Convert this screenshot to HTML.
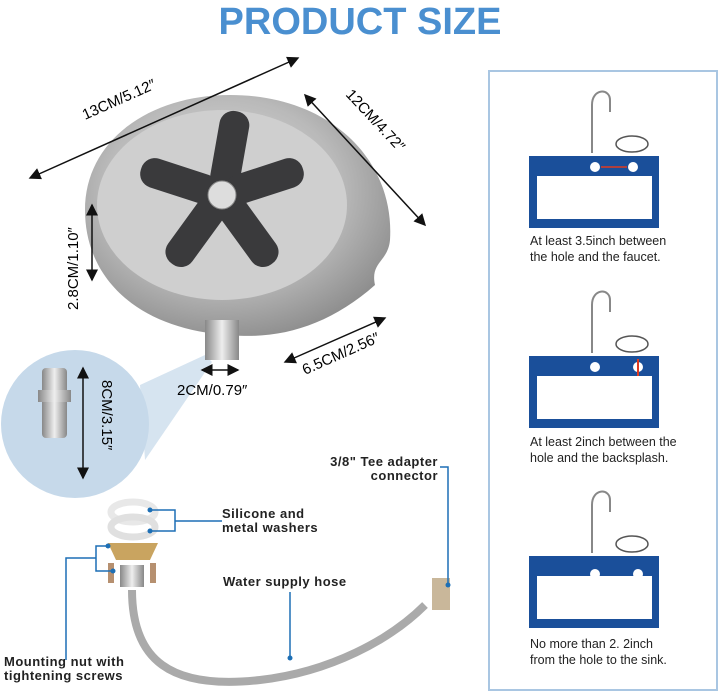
<!DOCTYPE html><html><head><style>body{margin:0;background:#fff}svg{display:block}</style></head><body>
<svg width="720" height="693" viewBox="0 0 720 693" xmlns="http://www.w3.org/2000/svg" font-family="Liberation Sans, sans-serif">
<defs>
<radialGradient id="g1" cx="45%" cy="40%" r="65%"><stop offset="0" stop-color="#e4e4e4"/><stop offset="0.6" stop-color="#b9b9b9"/><stop offset="1" stop-color="#8a8a8a"/></radialGradient>
<linearGradient id="g2" x1="0" x2="1"><stop offset="0" stop-color="#888"/><stop offset="0.5" stop-color="#eee"/><stop offset="1" stop-color="#888"/></linearGradient>
<marker id="a" markerWidth="8" markerHeight="8" refX="7" refY="4" orient="auto-start-reverse"><path d="M0,0 L8,4 L0,8z" fill="#111"/></marker>
</defs>
<text x="360" y="34" text-anchor="middle" font-size="38" font-weight="bold" fill="#4a8fd0">PRODUCT SIZE</text>
<!-- zoom cone -->
<path d="M140,385 L205,355 L212,362 L145,460z" fill="#d6e4f0"/>
<!-- pad -->
<path d="M230,95 C330,95 395,160 390,240 C388,262 370,262 375,285 C330,325 280,340 230,335 C140,330 85,280 85,210 C85,140 150,95 230,95z" fill="url(#g1)"/>
<ellipse cx="222" cy="205" rx="125" ry="95" fill="#cfcfcf"/>
<g fill="#3a3a3c" transform="translate(222,195)">
<rect x="-15" y="-85" width="30" height="80" rx="14" transform="rotate(10)"/>
<rect x="-15" y="-85" width="30" height="80" rx="14" transform="rotate(72)"/>
<rect x="-15" y="-85" width="30" height="80" rx="14" transform="rotate(144)"/>
<rect x="-15" y="-85" width="30" height="80" rx="14" transform="rotate(216)"/>
<rect x="-15" y="-85" width="30" height="80" rx="14" transform="rotate(288)"/>
</g>
<circle cx="222" cy="195" r="14" fill="#ddd" stroke="#888"/>
<rect x="205" y="320" width="34" height="40" fill="url(#g2)"/>
<!-- dims -->
<line x1="30" y1="178" x2="298" y2="58" stroke="#111" stroke-width="1.5" marker-start="url(#a)" marker-end="url(#a)"/>
<text font-size="15" transform="translate(85,120) rotate(-24)">13CM/5.12″</text>
<line x1="305" y1="95" x2="425" y2="225" stroke="#111" stroke-width="1.5" marker-start="url(#a)" marker-end="url(#a)"/>
<text font-size="15" transform="translate(345,95) rotate(47)">12CM/4.72″</text>
<line x1="92" y1="205" x2="92" y2="280" stroke="#111" stroke-width="1.5" marker-start="url(#a)" marker-end="url(#a)"/>
<text font-size="15" transform="translate(78,310) rotate(-90)">2.8CM/1.10″</text>
<line x1="285" y1="362" x2="385" y2="318" stroke="#111" stroke-width="1.5" marker-start="url(#a)" marker-end="url(#a)"/>
<text font-size="15" transform="translate(305,375) rotate(-24)">6.5CM/2.56″</text>
<line x1="202" y1="370" x2="238" y2="370" stroke="#111" stroke-width="1.5" marker-start="url(#a)" marker-end="url(#a)"/>
<text x="177" y="395" font-size="15">2CM/0.79″</text>
<!-- zoom circle -->
<circle cx="75" cy="424" r="74" fill="#c6d9ea"/>
<rect x="42" y="368" width="25" height="70" rx="4" fill="url(#g2)"/>
<rect x="38" y="390" width="33" height="12" fill="url(#g2)"/>
<line x1="83" y1="368" x2="83" y2="478" stroke="#111" stroke-width="1.5" marker-start="url(#a)" marker-end="url(#a)"/>
<text font-size="15" transform="translate(102,380) rotate(90)">8CM/3.15″</text>
<!-- parts -->
<ellipse cx="133" cy="512" rx="22" ry="10" fill="none" stroke="#e8e8e8" stroke-width="7"/>
<ellipse cx="133" cy="527" rx="22" ry="10" fill="none" stroke="#e0e0e0" stroke-width="7"/>
<path d="M108,543 L158,543 L150,560 L116,560z" fill="#c9a460"/>
<rect x="108" y="563" width="6" height="20" fill="#b69070"/><rect x="150" y="563" width="6" height="20" fill="#b69070"/>
<rect x="120" y="565" width="24" height="22" fill="url(#g2)"/>
<path d="M132,590 C132,660 170,690 260,680 C330,672 390,640 425,605" fill="none" stroke="#aaa" stroke-width="8"/>
<rect x="432" y="578" width="18" height="32" fill="#c9b79a"/>
<g stroke="#1d6fb5" stroke-width="1.5" fill="none">
<path d="M150,510 H175 V531 H150 M175,521 H222"/>
<path d="M108,546 H96 V571 H113 M96,558 H66 V660"/>
<path d="M290,592 V658"/>
<path d="M440,467 H448 V585"/>
</g>
<g fill="#1d6fb5"><circle cx="150" cy="510" r="2.5"/><circle cx="150" cy="531" r="2.5"/><circle cx="108" cy="546" r="2.5"/><circle cx="113" cy="571" r="2.5"/><circle cx="290" cy="658" r="2.5"/><circle cx="448" cy="585" r="2.5"/></g>
<g font-size="13" font-weight="bold" fill="#222" letter-spacing="0.5">
<text x="222" y="518">Silicone and</text><text x="222" y="532">metal washers</text>
<text x="223" y="586">Water supply hose</text>
<text x="438" y="466" text-anchor="end">3/8" Tee adapter</text><text x="438" y="480" text-anchor="end">connector</text>
<text x="4" y="666">Mounting nut with</text><text x="4" y="680">tightening screws</text>
</g>
<!-- right panel -->
<rect x="489" y="71" width="228" height="619" fill="#fff" stroke="#a9c6e2" stroke-width="2"/>
<g id="s1">
<rect x="529" y="156" width="130" height="72" fill="#1a4f9a"/>
<rect x="537" y="176" width="115" height="43" fill="#fff"/>
<path d="M592,153 V105 C592,88 610,88 610,100 V112" fill="none" stroke="#888" stroke-width="2"/>
<ellipse cx="632" cy="144" rx="16" ry="8" fill="none" stroke="#555" stroke-width="1.5"/>
</g>
<circle cx="595" cy="167" r="5" fill="#fff"/><circle cx="633" cy="167" r="5" fill="#fff"/>
<line x1="601" y1="167" x2="627" y2="167" stroke="#e03a20" stroke-width="1.5"/>
<use href="#s1" y="200"/>
<circle cx="595" cy="367" r="5" fill="#fff"/><circle cx="638" cy="367" r="5" fill="#fff"/>
<line x1="638" y1="359" x2="638" y2="376" stroke="#e03a20" stroke-width="2"/>
<use href="#s1" y="400"/>
<circle cx="595" cy="574" r="5" fill="#fff"/><circle cx="638" cy="574" r="5" fill="#fff"/>
<g font-size="12.5" fill="#222">
<text x="530" y="245">At least 3.5inch between</text><text x="530" y="261">the hole and the faucet.</text>
<text x="530" y="446">At least 2inch between  the</text><text x="530" y="462">hole and the backsplash.</text>
<text x="530" y="648">No more than 2. 2inch</text><text x="530" y="664">from the hole to the sink.</text>
</g>
</svg></body></html>
